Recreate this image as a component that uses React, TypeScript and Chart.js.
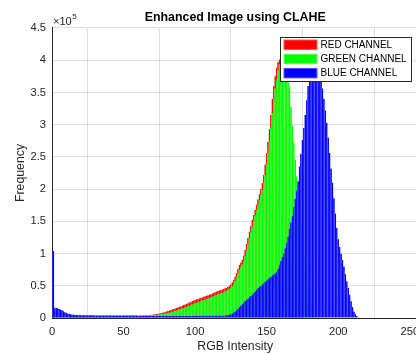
import React, { useEffect, useRef } from "react";
import { Chart, registerables } from "chart.js";

Chart.register(...registerables);

// Histogram counts, in units of 10^5
const RED = [
  0.10,0.10,0.10,0.09,0.09,0.08,0.07,0.06,0.055,0.05,
  0.045,0.045,0.045,0.045,0.045,0.045,0.045,0.045,0.045,0.045,
  0.04,0.04,0.04,0.04,0.04,0.04,0.04,0.04,0.04,0.04,
  0.04,0.04,0.04,0.04,0.04,0.04,0.04,0.04,0.04,0.04,
  0.035,0.035,0.035,0.035,0.035,0.035,0.035,0.035,0.035,0.035,
  0.035,0.035,0.035,0.035,0.035,0.035,0.035,0.035,0.035,0.035,
  0.035,0.036,0.037,0.038,0.04,0.042,0.044,0.046,0.048,0.05,
  0.052,0.055,0.058,0.062,0.066,0.07,0.075,0.08,0.085,0.09,
  0.10,0.107,0.115,0.123,0.131,0.14,0.148,0.156,0.164,0.172,
  0.18,0.19,0.2,0.21,0.22,0.23,0.24,0.25,0.26,0.27,
  0.28,0.288,0.296,0.304,0.312,0.32,0.328,0.336,0.344,0.352,
  0.36,0.37,0.38,0.39,0.40,0.41,0.418,0.426,0.434,0.442,
  0.45,0.46,0.47,0.485,0.50,0.52,0.55,0.59,0.64,0.70,
  0.76,0.82,0.86,0.90,0.97,1.06,1.15,1.24,1.34,1.43,
  1.52,1.60,1.68,1.76,1.84,1.92,2.0,2.09,2.22,2.38,
  2.56,2.74,2.93,3.15,3.40,3.60,3.75,3.88,3.97,4.01,
  3.85,3.5,3.0,2.5,2.0,1.55,1.15,0.85,0.6,0.4,
  0.25,0.15,0.09,0.05,0.03,0.02,0.01,0,0,0,
  0,0,0,0,0,0,0,0,0,0,
  0,0,0,0,0,0,0,0,0,0,
  0,0,0,0,0,0,0,0,0,0,
  0,0,0,0,0,0,0,0,0,0,
  0,0,0,0,0,0,0,0,0,0,
  0,0,0,0,0,0,0,0,0,0,
  0,0,0,0,0,0,0,0,0,0,
  0,0,0,0,0,0,
];

const GREEN = [
  0.10,0.10,0.10,0.09,0.09,0.085,0.08,0.07,0.06,0.055,
  0.05,0.05,0.05,0.05,0.05,0.05,0.05,0.05,0.05,0.05,
  0.045,0.045,0.045,0.045,0.045,0.045,0.045,0.045,0.045,0.045,
  0.045,0.045,0.045,0.045,0.045,0.045,0.045,0.045,0.045,0.045,
  0.045,0.045,0.045,0.045,0.045,0.045,0.045,0.045,0.045,0.045,
  0.045,0.045,0.045,0.045,0.045,0.045,0.045,0.045,0.045,0.045,
  0.042,0.04,0.04,0.04,0.04,0.04,0.041,0.042,0.043,0.044,
  0.045,0.047,0.049,0.051,0.053,0.055,0.058,0.061,0.064,0.067,
  0.07,0.076,0.082,0.088,0.094,0.10,0.108,0.116,0.124,0.132,
  0.14,0.148,0.156,0.164,0.172,0.18,0.19,0.20,0.21,0.22,
  0.23,0.238,0.246,0.254,0.262,0.27,0.278,0.286,0.294,0.302,
  0.31,0.32,0.33,0.34,0.35,0.36,0.368,0.376,0.384,0.392,
  0.40,0.41,0.42,0.435,0.45,0.47,0.495,0.53,0.575,0.63,
  0.69,0.75,0.79,0.83,0.88,0.96,1.05,1.14,1.24,1.33,
  1.42,1.51,1.59,1.67,1.75,1.83,1.91,1.99,2.09,2.22,
  2.38,2.56,2.75,2.95,3.18,3.40,3.56,3.70,3.84,3.94,
  4.04,4.10,4.13,4.10,4.02,3.86,3.58,3.28,2.98,2.72,
  2.46,2.2,1.95,1.7,1.45,1.2,0.98,0.78,0.6,0.44,
  0.3,0.2,0.12,0.07,0.04,0.02,0.01,0,0,0,
  0,0,0,0,0,0,0,0,0,0,
  0,0,0,0,0,0,0,0,0,0,
  0,0,0,0,0,0,0,0,0,0,
  0,0,0,0,0,0,0,0,0,0,
  0,0,0,0,0,0,0,0,0,0,
  0,0,0,0,0,0,0,0,0,0,
  0,0,0,0,0,0,
];

const BLUE = [
  1.05,1.04,0.16,0.155,0.15,0.14,0.13,0.12,0.105,0.09,
  0.08,0.07,0.065,0.06,0.055,0.05,0.048,0.046,0.044,0.042,
  0.04,0.04,0.04,0.04,0.04,0.04,0.04,0.04,0.04,0.04,
  0.035,0.035,0.035,0.035,0.035,0.035,0.035,0.035,0.035,0.035,
  0.035,0.035,0.035,0.035,0.035,0.035,0.035,0.035,0.035,0.035,
  0.035,0.035,0.035,0.035,0.035,0.035,0.035,0.035,0.035,0.035,
  0.032,0.032,0.032,0.032,0.032,0.032,0.032,0.032,0.032,0.032,
  0.032,0.032,0.032,0.032,0.032,0.032,0.032,0.032,0.032,0.032,
  0.032,0.032,0.032,0.032,0.032,0.032,0.032,0.032,0.032,0.032,
  0.032,0.032,0.032,0.032,0.032,0.032,0.032,0.032,0.032,0.032,
  0.033,0.033,0.033,0.033,0.033,0.033,0.033,0.033,0.033,0.033,
  0.033,0.033,0.033,0.033,0.033,0.033,0.033,0.033,0.033,0.033,
  0.035,0.037,0.04,0.045,0.05,0.06,0.07,0.085,0.10,0.12,
  0.14,0.165,0.19,0.215,0.24,0.26,0.28,0.30,0.32,0.34,
  0.36,0.385,0.41,0.435,0.46,0.48,0.50,0.52,0.54,0.56,
  0.58,0.60,0.62,0.64,0.66,0.675,0.69,0.71,0.76,0.82,
  0.88,0.94,1.0,1.08,1.16,1.26,1.38,1.48,1.58,1.72,
  1.85,1.98,2.12,2.35,2.55,2.76,2.95,3.15,3.38,3.60,
  3.74,3.85,3.93,3.98,4.0,3.98,3.93,3.84,3.70,3.56,
  3.40,3.22,3.03,2.80,2.56,2.32,2.10,1.86,1.62,1.40,
  1.22,1.10,1.0,0.9,0.8,0.68,0.57,0.47,0.36,0.26,
  0.17,0.1,0.06,0.03,0.01,0,0,0,0,0,
  0,0,0,0,0,0,0,0,0,0,
  0,0,0,0,0,0,0,0,0,0,
  0,0,0,0,0,0,0,0,0,0,
  0,0,0,0,0,0,
];

const INTENSITY = RED.map((_, i) => i);
const X_TICKS = [0, 50, 100, 150, 200, 250];
const Y_TICKS = [0, 0.5, 1, 1.5, 2, 2.5, 3, 3.5, 4, 4.5];
const SERIES_LABELS = ["RED CHANNEL", "GREEN CHANNEL", "BLUE CHANNEL"];
const SERIES_COLORS = ["#ff0000", "#00ff00", "#0000ff"];
const SERIES_EDGES = ["#ff5a5a", "#6cff6c", "#5a5aff"];
const TITLE = "Enhanced Image using CLAHE";
const X_LABEL = "RGB Intensity";
const Y_LABEL = "Frequency";
const EXPONENT = "5";

const FONT = "'Liberation Sans', Arial, Helvetica, sans-serif";
const TEXT = "#262626";
const GRID = "rgba(38,38,38,0.15)";

const overlayPlugin = {
  id: "matlabOverlay",
  afterDraw(chart: any) {
    const ctx = chart.ctx as CanvasRenderingContext2D;
    const area = chart.chartArea;
    ctx.save();
    // exponent label
    ctx.fillStyle = TEXT;
    ctx.textBaseline = "middle";
    ctx.textAlign = "left";
    ctx.font = `11px ${FONT}`;
    const base = "\u00d710";
    ctx.fillText(base, area.left + 1, area.top - 6.5);
    const w = ctx.measureText(base).width;
    ctx.font = `8px ${FONT}`;
    ctx.fillText(EXPONENT, area.left + 1 + w + 0.5, area.top - 11.5);

    // legend
    const lx = 280.5, ly = 37.5, lw = 131, lh = 44;
    ctx.fillStyle = "#ffffff";
    ctx.fillRect(lx, ly, lw, lh);
    ctx.strokeStyle = TEXT;
    ctx.lineWidth = 1;
    ctx.strokeRect(lx, ly, lw, lh);
    ctx.font = `10px ${FONT}`;
    chart.data.datasets.forEach((ds: any, i: number) => {
      const ry = 40 + i * 14.2;
      ctx.fillStyle = ds.borderColor;
      ctx.fillRect(283.5, ry - 0.5, 34, 10.5);
      ctx.fillStyle = ds.backgroundColor;
      ctx.fillRect(284.5, ry + 0.5, 32, 8.5);
      ctx.fillStyle = "#000";
      ctx.fillText(ds.label, 320.5, ry + 5);
    });
    ctx.restore();
  },
};

export default function App() {
  const ref = useRef<HTMLCanvasElement>(null);
  useEffect(() => {
    document.body.style.margin = "0";
    const mk = (vals: number[]) => vals.map((v, i) => ({ x: INTENSITY[i], y: v }));
    const series = [RED, GREEN, BLUE];
    const chart = new Chart(ref.current as HTMLCanvasElement, {
      type: "bar",
      data: {
        datasets: series.map((vals, i) => ({
          label: SERIES_LABELS[i],
          data: mk(vals),
          backgroundColor: SERIES_COLORS[i],
          borderColor: SERIES_EDGES[i],
          borderWidth: { left: 0.5, right: 0, top: 0, bottom: 0 },
          borderSkipped: "start",
          grouped: false,
          barPercentage: 1,
          categoryPercentage: 1,
          order: 3 - i,
        })),
      } as any,
      options: {
        responsive: false,
        animation: false,
        events: [],
        layout: { padding: { left: 0, right: 21.6, top: 0, bottom: 0 } },
        plugins: {
          legend: { display: false },
          tooltip: { enabled: false },
          title: {
            display: true,
            text: TITLE,
            fullSize: false,
            color: "#000",
            font: { family: FONT, size: 12.4, weight: "bold" },
            padding: { top: 10.5, bottom: 2.6 },
          },
        },
        scales: {
          x: {
            type: "linear",
            min: 0,
            max: 256,
            z: 1,
            offset: false,
            afterBuildTicks: (s: any) => {
              s.ticks = X_TICKS.map((v) => ({ value: v }));
            },
            afterFit: (s: any) => {
              s.height = 36;
            },
            ticks: {
              includeBounds: false,
              color: TEXT,
              font: { family: FONT, size: 11.2 },
              padding: 7,
              maxRotation: 0,
              autoSkip: false,
              callback: (v: any) => String(v),
            },
            grid: { color: GRID, drawTicks: false, lineWidth: 1 },
            border: { display: true, color: TEXT, width: 1 },
            title: {
              display: true,
              text: X_LABEL,
              color: TEXT,
              font: { family: FONT, size: 12.3 },
              padding: { top: 0, bottom: 0 },
            },
          },
          y: {
            type: "linear",
            min: 0,
            max: 4.5,
            z: 1,
            afterBuildTicks: (s: any) => {
              s.ticks = Y_TICKS.map((v) => ({ value: v }));
            },
            afterFit: (s: any) => {
              s.width = 52;
            },
            ticks: {
              color: TEXT,
              font: { family: FONT, size: 11.2 },
              padding: 6,
              autoSkip: false,
              callback: (v: any) => String(v),
            },
            grid: { color: GRID, drawTicks: false, lineWidth: 1 },
            border: { display: true, color: TEXT, width: 1 },
            title: {
              display: true,
              text: Y_LABEL,
              color: TEXT,
              font: { family: FONT, size: 12.3 },
              padding: { top: 13, bottom: 0 },
            },
          },
        },
      } as any,
      plugins: [overlayPlugin],
    });
    return () => chart.destroy();
  }, []);
  return (
    <div style={{ width: 416, height: 354, overflow: "hidden", position: "relative", background: "#fff" }}>
      <canvas ref={ref} width={440} height={354} style={{ display: "block", width: 440, height: 354 }} />
    </div>
  );
}
